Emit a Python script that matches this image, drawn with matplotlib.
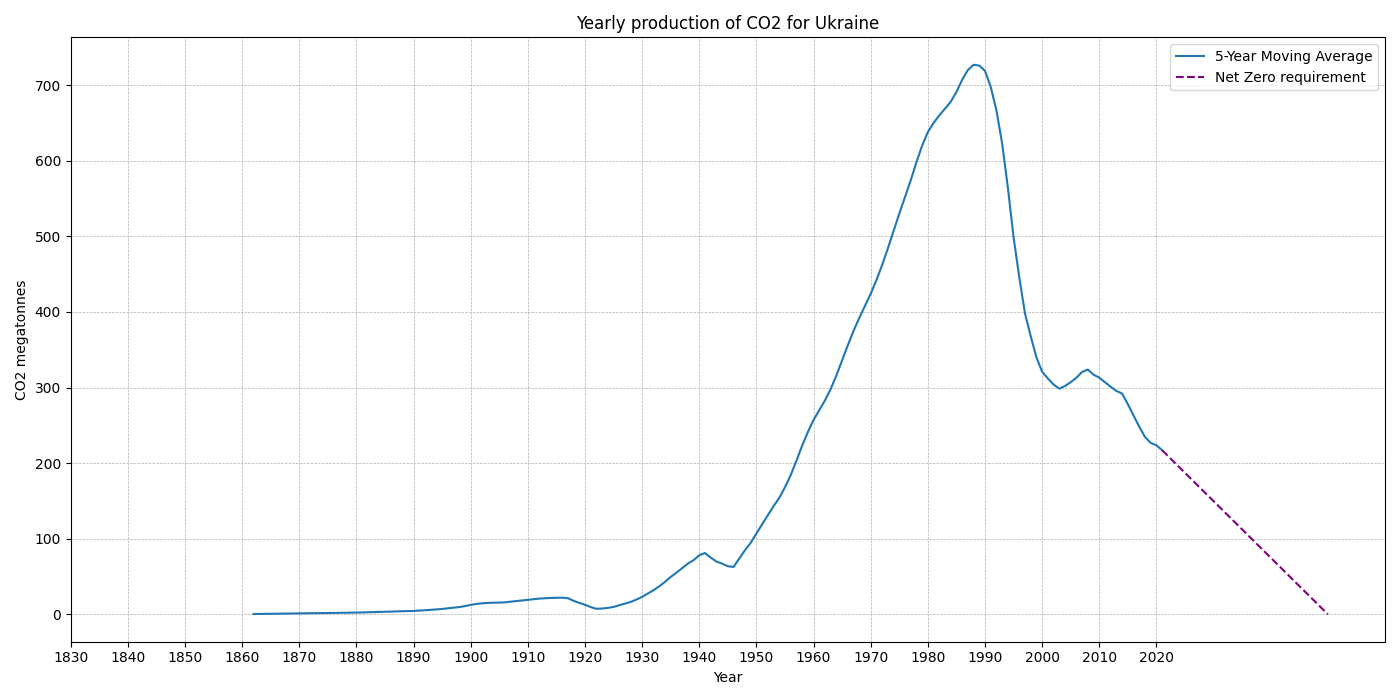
import matplotlib
matplotlib.use("Agg")
import matplotlib.pyplot as plt

# Data: 5-year moving average of yearly CO2 (megatonnes), Ukraine
years = list(range(1862, 2022))
co2_avg = [
    0.3, 0.4, 0.5, 0.6, 0.7, 0.8, 0.9, 1.0, 1.1, 1.2,          # 1862-1871
    1.3, 1.4, 1.5, 1.6, 1.7, 1.8, 1.9, 2.0, 2.2, 2.4,          # 1872-1881
    2.6, 2.8, 3.0, 3.2, 3.5, 3.8, 4.0, 4.2, 4.4, 4.8,          # 1882-1891
    5.3, 5.8, 6.4, 7.0, 7.8, 8.6, 9.5, 10.8, 12.3, 13.6,       # 1892-1901
    14.5, 15.0, 15.3, 15.4, 15.8, 16.6, 17.5, 18.3, 19.0, 19.8,  # 1902-1911
    20.7, 21.2, 21.6, 21.8, 21.9, 21.3, 17.8, 15.0, 12.5, 9.5,   # 1912-1921
    7.2, 7.6, 8.4, 9.7, 11.9, 14.0, 16.3, 19.4, 23.0, 27.4,      # 1922-1931
    31.8, 37.0, 42.8, 49.4, 55.0, 61.0, 67.0, 71.5, 78.0, 81.0,  # 1932-1941
    75.0, 69.7, 67.0, 63.5, 62.6, 73.7, 84.7, 94.5, 106.8, 119,  # 1942-1951
    131, 143, 154, 168, 184, 203, 223, 241, 257, 270,            # 1952-1961
    283, 298, 316, 336, 356, 375, 392, 408, 424, 442,            # 1962-1971
    462, 484, 507, 530, 552, 574, 598, 620, 638, 650,            # 1972-1981
    660, 669, 678, 691, 707, 720, 727, 726, 719, 698,            # 1982-1991
    667, 623, 565, 499, 446, 398, 368, 340, 321, 312,            # 1992-2001
    304, 298.5, 302, 307, 313, 320.6, 323.8, 317, 313, 307,      # 2002-2011
    301, 295.5, 292, 278, 263, 248, 234.6, 226.7, 223.6, 217,    # 2012-2021
]

nz_years = [2021, 2050]
nz_values = [217, 0]

tick_years = list(range(1830, 2021, 10))

fig, ax = plt.subplots(figsize=(14, 7), dpi=100)
ax.set_title("Yearly production of CO2 for Ukraine")
ax.set_xlabel("Year")
ax.set_ylabel("CO2 megatonnes")

ax.plot(years, co2_avg, label="5-Year Moving Average")
ax.plot(nz_years, nz_values, linestyle="--", color="purple", label="Net Zero requirement")

ax.set_xticks(tick_years)
ax.set_xlim(1830, 2060)
ax.grid(True, linestyle="--", linewidth=0.5)
ax.legend(loc="upper right")

fig.tight_layout()
fig.savefig("out.png")
